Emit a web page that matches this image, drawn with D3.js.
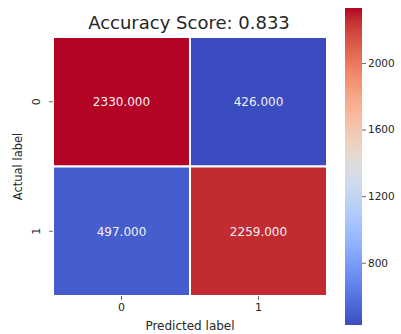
<!DOCTYPE html>
<html>
<head>
<meta charset="utf-8">
<script src="https://cdn.jsdelivr.net/npm/d3@7"></script>
<style>
  body { margin: 0; background: #fff; }
  text { font-family: "DejaVu Sans", sans-serif; fill: #262626; }
</style>
</head>
<body>
<svg id="chart" width="401" height="334"></svg>
<script>
// confusion matrix values
const predictedLabels = ["0", "1"];
const actualLabels = ["0", "1"];
const matrixRow0 = [2330, 426];
const matrixRow1 = [497, 2259];
const colorbarTicks = [800, 1200, 1600, 2000];
const accuracy = 0.833;

// matplotlib "coolwarm" stops
const coolwarm = [
  "#3b4cc0", "#445acc", "#4d68d7", "#5775e1", "#6282ea", "#6c8ef1", "#779af7", "#82a5fb",
  "#8db0fe", "#98b9ff", "#a3c2ff", "#aec9fd", "#b8d0f9", "#c2d5f4", "#ccd9ee", "#d5dbe6",
  "#dddddd", "#e5d8d1", "#ecd3c5", "#f1ccb9", "#f5c4ad", "#f7bba0", "#f7b194", "#f7a687",
  "#f49a7b", "#f18d6f", "#ec7f63", "#e57058", "#de604d", "#d55042", "#cb3e38", "#c0282f",
  "#b40426"
];

const cells = [];
[matrixRow0, matrixRow1].forEach((row, i) => {
  row.forEach((v, j) => {
    cells.push({ actual: actualLabels[i], predicted: predictedLabels[j], val: v });
  });
});

const allVals = cells.map((d) => d.val);
const vmin = d3.min(allVals), vmax = d3.max(allVals);

const color = d3
  .scaleSequential(d3.piecewise(d3.interpolateRgb, coolwarm))
  .domain([vmin, vmax]);

const svg = d3.select("#chart");

// heatmap area
const hm = { left: 53, right: 327, top: 37, bottom: 296 };

const x = d3.scaleBand().domain(predictedLabels).range([hm.left, hm.right]);
const y = d3.scaleBand().domain(actualLabels).range([hm.top, hm.bottom]);

svg
  .append("g")
  .selectAll("rect")
  .data(cells)
  .enter()
  .append("rect")
  .attr("x", (d) => x(d.predicted))
  .attr("y", (d) => y(d.actual))
  .attr("width", x.bandwidth())
  .attr("height", y.bandwidth())
  .attr("fill", (d) => color(d.val))
  .attr("stroke", "#fff")
  .attr("stroke-width", 2);

svg
  .append("g")
  .selectAll("text")
  .data(cells)
  .enter()
  .append("text")
  .attr("x", (d) => x(d.predicted) + x.bandwidth() / 2)
  .attr("y", (d) => y(d.actual) + y.bandwidth() / 2)
  .attr("dy", "0.36em")
  .attr("text-anchor", "middle")
  .style("font-size", "12px")
  .style("fill", "#f4f0f4")
  .text((d) => d.val.toFixed(3));

// x axis
const xAxis = svg
  .append("g")
  .attr("transform", "translate(0," + hm.bottom + ")")
  .call(d3.axisBottom(x).tickSize(4).tickPadding(3));
xAxis.select(".domain").remove();
xAxis.selectAll("line").attr("stroke", "#444").attr("stroke-width", 0.8);
xAxis.selectAll("text").style("font-size", "11px").style("font-family", "DejaVu Sans").attr("fill", "#262626");

// y axis, labels rotated
const yAxis = svg
  .append("g")
  .attr("transform", "translate(" + hm.left + ",0)")
  .call(d3.axisLeft(y).tickSize(4).tickPadding(3));
yAxis.select(".domain").remove();
yAxis.selectAll("line").attr("stroke", "#444").attr("stroke-width", 0.8);
yAxis
  .selectAll("text")
  .style("font-size", "11px")
  .style("font-family", "DejaVu Sans")
  .attr("fill", "#262626")
  .attr("text-anchor", "middle")
  .attr("dy", "0")
  .attr("transform", "rotate(-90)")
  .attr("x", 0)
  .attr("y", -13);

// axis labels
svg
  .append("text")
  .attr("x", (hm.left + hm.right) / 2)
  .attr("y", 330)
  .attr("text-anchor", "middle")
  .style("font-size", "12px")
  .text("Predicted label");

svg
  .append("text")
  .attr("transform", "translate(22," + (hm.top + hm.bottom) / 2 + ") rotate(-90)")
  .attr("text-anchor", "middle")
  .style("font-size", "11.5px")
  .text("Actual label");

// title
svg
  .append("text")
  .attr("x", (hm.left + hm.right) / 2 - 1)
  .attr("y", 29)
  .attr("text-anchor", "middle")
  .style("font-size", "18px")
  .text("Accuracy Score: " + accuracy.toFixed(3));

// colorbar
const cb = { left: 345, width: 17, top: 8, bottom: 325 };
const cy = d3.scaleLinear().domain([vmin, vmax]).range([cb.bottom, cb.top]);

const grad = svg
  .append("defs")
  .append("linearGradient")
  .attr("id", "cbgrad")
  .attr("x1", 0).attr("y1", 1).attr("x2", 0).attr("y2", 0);
d3.range(0, 1.0001, 0.02).forEach((t) => {
  grad
    .append("stop")
    .attr("offset", t)
    .attr("stop-color", color(vmin + t * (vmax - vmin)));
});

svg
  .append("rect")
  .attr("x", cb.left)
  .attr("y", cb.top)
  .attr("width", cb.width)
  .attr("height", cb.bottom - cb.top)
  .attr("fill", "url(#cbgrad)");

const cAxis = svg
  .append("g")
  .attr("transform", "translate(" + (cb.left + cb.width) + ",0)")
  .call(
    d3.axisRight(cy).tickValues(colorbarTicks).tickFormat(d3.format("d")).tickSize(4).tickPadding(2)
  );
cAxis.select(".domain").remove();
cAxis.selectAll("line").attr("stroke", "#444").attr("stroke-width", 0.8);
cAxis.selectAll("text").style("font-size", "10.5px").style("font-family", "DejaVu Sans").attr("fill", "#262626");
</script>
</body>
</html>
